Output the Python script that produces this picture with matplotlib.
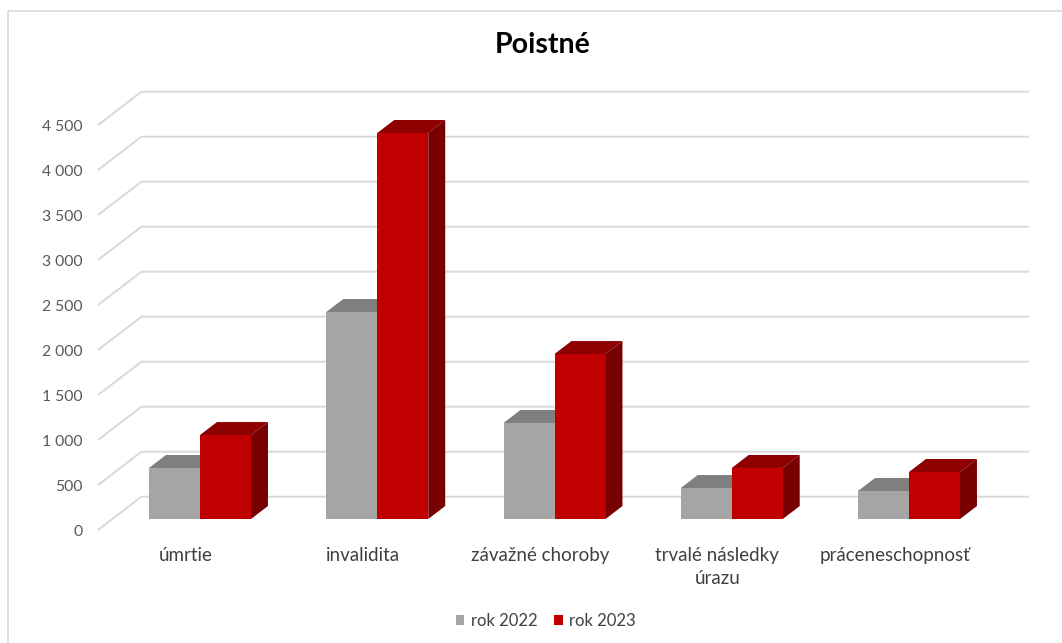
import matplotlib
matplotlib.use("Agg")
import matplotlib.pyplot as plt
from matplotlib.patches import Polygon, Rectangle, Patch

plt.rcParams['font.family'] = ['Lato', 'DejaVu Sans']

# --- data ---------------------------------------------------------------
categories = ["úmrtie", "invalidita", "závažné choroby",
              "trvalé následky\núrazu", "práceneschopnosť"]
series_names = ["rok 2022", "rok 2023"]
values_2022 = [567, 2300, 1067, 344, 311]
values_2023 = [933, 4289, 1833, 567, 522]
y_ticks = [0, 500, 1000, 1500, 2000, 2500, 3000, 3500, 4000, 4500]
title = "Poistné"

# --- styling ------------------------------------------------------------
face_colors = ["#A5A5A5", "#C00000"]
top_colors = ["#7F7F7F", "#8E0000"]
side_colors = ["#6E6E6E", "#780000"]
grid_color = "#D9D9D9"
tick_color = "#595959"
label_color = "#404040"

W, H = 1062, 643
fig = plt.figure(figsize=(W / 100, H / 100), dpi=100)
ax = fig.add_axes([0, 0, 1, 1])

# projection layout (category units on x, value units on y)
cat_px = 177.25          # pixels per category step
x0_px = 200.0            # pixel x of first category centre
base_px = 519.0          # pixel y of value 0 on bar front plane
val_px = 0.09            # pixels per value unit
ax.set_xlim(-x0_px / cat_px, (W - x0_px) / cat_px)
ax.set_ylim((base_px - H) / val_px, base_px / val_px)
ax.axis("off")

bar_w = 51.0 / cat_px
DX = 43.5 / cat_px       # full floor depth, x component
DY = 33.3 / val_px       # full floor depth, y component
d_front, d_back = 0.33, 0.72   # bar depth span within the floor


def shift(d):
    """Offset of depth plane d relative to the bar front plane."""
    return (d - d_front) * DX, (d - d_front) * DY


fx, fy = shift(0.0)
bx, by = shift(1.0)
floor_left = (98.0 - x0_px) / cat_px - fx      # left floor edge, bar plane
back_right = (1029.0 - x0_px) / cat_px         # right end of back wall

# gridlines: diagonal on the left side wall, horizontal on back wall
for v in y_ticks:
    ax.plot([floor_left + fx, floor_left + bx, back_right],
            [v + fy, v + by, v + by], color=grid_color, lw=1.4, zorder=1,
            solid_capstyle="butt")
    ax.text(floor_left + fx - 15 / cat_px, v + fy - 2 / val_px,
            f"{v:,}".replace(",", " "),
            ha="right", va="center", fontsize=11.3, color=tick_color)

# category labels at the floor front edge
for i, cat in enumerate(categories):
    ax.text(i + fx, fy - 17 / val_px, cat, ha="center", va="top",
            fontsize=13.5, color=label_color, linespacing=1.4)

# 3D-looking bars
bdx = (d_back - d_front) * DX
bdy = (d_back - d_front) * DY
xs = list(range(len(categories)))
for s, vals in enumerate([values_2022, values_2023]):
    lefts = [x - bar_w + s * bar_w for x in xs]
    ax.bar(lefts, vals, width=bar_w, align="edge", color=face_colors[s],
           zorder=3 + s * 0.5, linewidth=0)
    for xl, v in zip(lefts, vals):
        xr = xl + bar_w
        top = Polygon([(xl, v), (xr, v), (xr + bdx, v + bdy), (xl + bdx, v + bdy)],
                      closed=True, facecolor=top_colors[s], edgecolor="none",
                      zorder=2.9 + s * 0.5)
        side = Polygon([(xr, 0), (xr + bdx, bdy), (xr + bdx, v + bdy), (xr, v)],
                       closed=True, facecolor=side_colors[s], edgecolor="none",
                       zorder=2.9 + s * 0.5)
        ax.add_patch(top)
        ax.add_patch(side)

# title
fig.text(0.5105, 1 - 45 / H, title, ha="center", va="center",
         fontsize=20.5, fontweight="bold", color="#000000")

# legend
handles = [Patch(facecolor=c, edgecolor="none") for c in face_colors]
fig.legend(handles, series_names, loc="center", bbox_to_anchor=(0.514, 1 - 621 / H),
           ncol=2, frameon=False, fontsize=12, handlelength=0.5, handleheight=0.55,
           handletextpad=0.4, columnspacing=1.0, labelcolor=label_color)

# chart border
fig.patches.append(Rectangle((8 / W, -0.1), 1.2, 1 - 11 / H + 0.1,
                             transform=fig.transFigure, fill=False,
                             edgecolor=grid_color, lw=1.2))

fig.savefig("out.png", dpi=100, facecolor="white")
